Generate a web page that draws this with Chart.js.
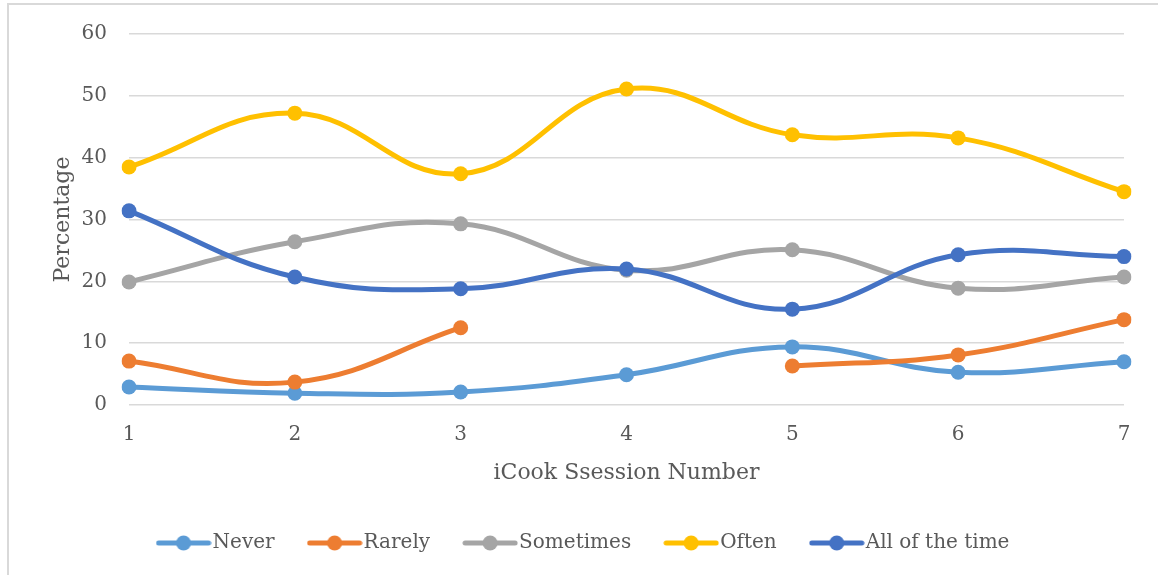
<!DOCTYPE html>
<html>
<head>
<meta charset="utf-8">
<script src="https://cdn.jsdelivr.net/npm/chart.js@4/dist/chart.umd.min.js"></script>
<style>
    body { margin: 0; background: #fff; overflow: hidden; }
    #frame { position: absolute; left: 7px; top: 3px; width: 1200px; height: 600px;
             border-left: 2px solid #d9d9d9; border-top: 2px solid #d9d9d9; }
    #myChart { position: absolute; left: 0; top: 0; }
</style>
</head>
<body>
<div id="frame"></div>
<canvas id="myChart" width="1158" height="575"></canvas>
<script>
var sessions = ["1", "2", "3", "4", "5", "6", "7"];
var seriesNames = ["Never", "Rarely", "Sometimes", "Often", "All of the time"];
var seriesColors = ["#5B9BD5", "#ED7D31", "#A5A5A5", "#FFC000", "#4472C4"];

var neverValues = [2.9, 1.9, 2.1, 4.9, 9.4, 5.3, 7.0];
var rarelyValues = [7.1, 3.7, 12.5, null, 6.3, 8.1, 13.8];
var sometimesValues = [19.9, 26.4, 29.3, 21.8, 25.1, 18.9, 20.7];
var oftenValues = [38.5, 47.2, 37.4, 51.1, 43.7, 43.2, 34.5];
var allTimeValues = [31.4, 20.7, 18.8, 22.0, 15.5, 24.3, 24.0];

var yTicks = [0, 10, 20, 30, 40, 50, 60];

var allValues = [neverValues, rarelyValues, sometimesValues, oftenValues, allTimeValues];
var fontName = "'DejaVu Serif', serif";
var textColor = "#595959";

// little line + dot picture for the legend, like excel draws it
function legendMarker(color){
    let c = document.createElement('canvas');
    c.width = 56;
    c.height = 16;
    let ctx = c.getContext('2d');
    ctx.strokeStyle = color;
    ctx.lineWidth = 5;
    ctx.lineCap = 'round';
    ctx.beginPath();
    ctx.moveTo(3, 8);
    ctx.lineTo(53, 8);
    ctx.stroke();
    ctx.fillStyle = color;
    ctx.beginPath();
    ctx.arc(28, 8, 7.5, 0, Math.PI * 2);
    ctx.fill();
    return c;
}

var datasets = [];
for (let i = 0; i < seriesNames.length; i++) {
    datasets.push({
        label: seriesNames[i],
        data: allValues[i],
        borderColor: seriesColors[i],
        backgroundColor: seriesColors[i],
        borderWidth: 5,
        pointRadius: 7.5,
        pointBorderWidth: 0,
        pointHoverRadius: 7.5,
        tension: 0.42,
        spanGaps: false,
        fill: false,
        order: seriesNames.length - i
    });
}

new Chart("myChart", {
    type: "line",
    data: {
        labels: sessions,
        datasets: datasets
    },
    options: {
        responsive: false,
        animation: false,
        layout: {
            padding: { left: 50, right: 34, top: 33, bottom: 12 }
        },
        plugins: {
            tooltip: { enabled: false },
            legend: {
                position: 'bottom',
                labels: {
                    usePointStyle: true,
                    pointStyleWidth: 38,
                    padding: 41,
                    color: textColor,
                    font: { family: fontName, size: 20 },
                    sort: (a, b) => a.datasetIndex - b.datasetIndex,
                    generateLabels: function(chart){
                        let items = Chart.defaults.plugins.legend.labels.generateLabels(chart);
                        items.forEach(item => {
                            item.pointStyle = legendMarker(seriesColors[item.datasetIndex]);
                        });
                        return items;
                    }
                }
            }
        },
        scales: {
            x: {
                offset: false,
                grid: { display: false },
                border: { display: false },
                ticks: {
                    color: textColor,
                    padding: 10,
                    font: { family: fontName, size: 20 }
                },
                title: {
                    display: true,
                    text: "iCook Ssession Number",
                    color: textColor,
                    padding: { top: 4, bottom: 6 },
                    font: { family: fontName, size: 22 }
                },
                afterFit: function(scale){ scale.height = 87; }
            },
            y: {
                min: 0,
                max: 60,
                afterBuildTicks: function(scale){
                    scale.ticks = yTicks.map(v => ({ value: v }));
                },
                grid: {
                    color: "#d9d9d9",
                    lineWidth: 1.5,
                    drawTicks: false
                },
                border: { display: false },
                ticks: {
                    color: textColor,
                    padding: 22,
                    font: { family: fontName, size: 20 }
                },
                title: {
                    display: true,
                    text: "Percentage",
                    color: textColor,
                    padding: { top: 0, bottom: 0 },
                    font: { family: fontName, size: 22 }
                },
                afterFit: function(scale){ scale.width = 79; }
            }
        }
    }
});
</script>
</body>
</html>
